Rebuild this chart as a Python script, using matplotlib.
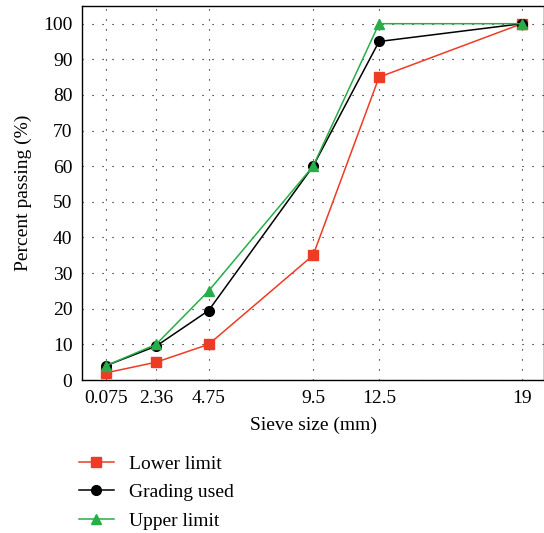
import matplotlib
matplotlib.use("Agg")
import matplotlib.pyplot as plt

sieve = [0.075, 2.36, 4.75, 9.5, 12.5, 19]
tick_labels = ["0.075", "2.36", "4.75", "9.5", "12.5", "19"]
lower_limit = [2, 5, 10, 35, 85, 100]
grading_used = [4, 9.5, 19.5, 60, 95, 100]
upper_limit = [4, 10, 25, 60, 100, 100]

plt.rcParams['font.family'] = ['Liberation Serif', 'DejaVu Serif']
plt.rcParams['font.size'] = 14

fig = plt.figure(figsize=(5.44, 5.33), dpi=100)
ax = fig.add_axes([0.151, 0.287, 0.849, 0.702])

l1, = ax.plot(sieve, lower_limit, color='#ee3b24', marker='s', markersize=7, lw=1.1, label='Lower limit')
l2, = ax.plot(sieve, grading_used, color='black', marker='o', markersize=7, lw=1.1, label='Grading used')
l3, = ax.plot(sieve, upper_limit, color='#27ae48', marker='^', markersize=7, lw=1.1, label='Upper limit')

ax.set_xlim(-1, 20)
ax.set_ylim(0, 105)
ax.set_xticks(sieve)
ax.set_xticklabels(tick_labels)
ax.set_yticks(range(0, 101, 10))
ax.tick_params(length=0, pad=7, labelsize=14)
ax.grid(True, color='black', linestyle=(0, (1, 8)), linewidth=0.8)
for s in ax.spines.values():
    s.set_linewidth(1.0)

ax.set_xlabel("Sieve size (mm)", fontsize=14, labelpad=7)
ax.set_ylabel("Percent passing (%)", fontsize=14, labelpad=8)

# legend sits under the axes, left aligned
fig.legend(handles=[l1, l2, l3], loc='upper left', bbox_to_anchor=(0.145, 0.146),
           frameon=False, fontsize=14, handlelength=1.8, handletextpad=0.8,
           labelspacing=0.56, borderaxespad=0, borderpad=0)

fig.savefig("out.png", dpi=100)
